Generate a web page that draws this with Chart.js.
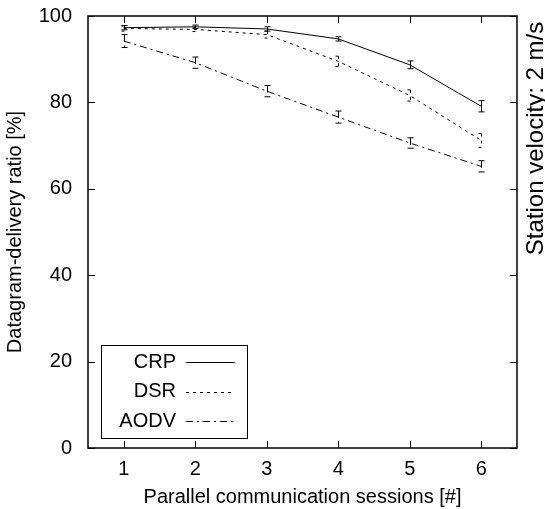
<!DOCTYPE html>
<html>
<head>
<meta charset="utf-8">
<script src="https://cdn.jsdelivr.net/npm/chart.js@4"></script>
<style>
  html, body { margin: 0; padding: 0; background: #fff; }
  canvas { display: block; }
</style>
</head>
<body>
<canvas id="chart" width="545" height="509"></canvas>
<script>
// values
const sessions = [1, 2, 3, 4, 5, 6];
const crp  = [97.3, 97.5, 97.0, 94.7, 88.7, 79.1];
const dsr  = [97.1, 96.9, 95.7, 89.5, 81.6, 71.2];
const aodv = [94.2, 89.2, 82.6, 76.6, 70.6, 65.2];
const crpErr  = [0.5, 0.4, 0.5, 0.5, 0.9, 1.3];
const dsrErr  = [0.6, 0.5, 0.8, 1.2, 1.3, 1.6];
const aodvErr = [1.5, 1.3, 1.3, 1.4, 1.2, 1.3];
const yTicks = [0, 20, 40, 60, 80, 100];
const rightLabel = 'Station velocity: 2 m/s';

const FONT = 'Liberation Sans, Arial, Helvetica, sans-serif';
const errors = [crpErr, dsrErr, aodvErr];

function pts(vals) {
  return sessions.map((s, i) => ({ x: s, y: vals[i] }));
}

// gnuplot-like frame, inward ticks, error bars, key box and right label
const gnuplotDecor = {
  id: 'gnuplotDecor',
  afterDatasetsDraw(chart) {
    const { ctx, chartArea: a, scales: { x, y } } = chart;
    ctx.save();
    ctx.strokeStyle = '#000';
    ctx.fillStyle = '#000';

    // error bars
    ctx.lineWidth = 1;
    chart.data.datasets.forEach((ds, i) => {
      ctx.setLineDash(ds.borderDash || []);
      ds.data.forEach((p, j) => {
        const e = errors[i][j];
        const px = Math.round(x.getPixelForValue(p.x)) + 0.5;
        const t = y.getPixelForValue(p.y + e);
        const b = y.getPixelForValue(p.y - e);
        ctx.beginPath();
        ctx.moveTo(px, t); ctx.lineTo(px, b);
        ctx.moveTo(px - 3, t); ctx.lineTo(px + 3, t);
        ctx.moveTo(px - 3, b); ctx.lineTo(px + 3, b);
        ctx.stroke();
      });
    });
    ctx.setLineDash([]);

    // frame
    ctx.lineWidth = 1.5;
    ctx.strokeRect(a.left, a.top, a.right - a.left, a.bottom - a.top);

    // ticks
    ctx.lineWidth = 1;
    yTicks.forEach(v => {
      const py = Math.round(y.getPixelForValue(v)) + 0.5;
      ctx.beginPath();
      ctx.moveTo(a.left, py); ctx.lineTo(a.left + 7, py);
      ctx.moveTo(a.right, py); ctx.lineTo(a.right - 7, py);
      ctx.stroke();
    });
    sessions.forEach(v => {
      const px = Math.round(x.getPixelForValue(v)) + 0.5;
      ctx.beginPath();
      ctx.moveTo(px, a.bottom); ctx.lineTo(px, a.bottom - 7);
      ctx.moveTo(px, a.top); ctx.lineTo(px, a.top + 7);
      ctx.stroke();
    });

    // key
    const kx = 101, ky = 345, kw = 146, kh = 93;
    ctx.fillStyle = '#fff';
    ctx.fillRect(kx, ky, kw, kh);
    ctx.fillStyle = '#000';
    ctx.strokeRect(kx + 0.5, ky + 0.5, kw, kh);
    ctx.font = '20px ' + FONT;
    ctx.textAlign = 'right';
    ctx.textBaseline = 'middle';
    chart.data.datasets.forEach((ds, i) => {
      const ly = ky + 17 + i * 29.5;
      ctx.fillText(ds.label, kx + 75, ly);
      ctx.setLineDash(ds.borderDash || []);
      ctx.beginPath();
      ctx.moveTo(kx + 85, Math.round(ly) + 0.5);
      ctx.lineTo(kx + 134, Math.round(ly) + 0.5);
      ctx.stroke();
      ctx.setLineDash([]);
    });

    // right side label
    ctx.font = '24px ' + FONT;
    ctx.textBaseline = 'alphabetic';
    ctx.translate(543, 138.5);
    ctx.rotate(-Math.PI / 2);
    ctx.textAlign = 'center';
    ctx.fillText(rightLabel, 0, 0);
    ctx.restore();
  }
};

new Chart(document.getElementById('chart'), {
  type: 'line',
  data: {
    datasets: [
      { label: 'CRP',  data: pts(crp),  borderColor: '#000', borderWidth: 1, borderDash: [] },
      { label: 'DSR',  data: pts(dsr),  borderColor: '#000', borderWidth: 1, borderDash: [3, 4] },
      { label: 'AODV', data: pts(aodv), borderColor: '#000', borderWidth: 1, borderDash: [7, 4, 2, 4] }
    ]
  },
  options: {
    responsive: false,
    animation: false,
    layout: { padding: { top: 16, right: 28, left: 0, bottom: 0 } },
    elements: { point: { radius: 0 }, line: { tension: 0 } },
    plugins: { legend: { display: false }, tooltip: { enabled: false } },
    scales: {
      x: {
        type: 'linear',
        min: 0.5,
        max: 6.5,
        afterBuildTicks: s => { s.ticks = sessions.map(v => ({ value: v })); },
        afterFit: s => { s.height = 61; s.paddingLeft = 0; s.paddingRight = 0; },
        grid: { display: false, drawTicks: false },
        border: { display: false },
        ticks: { color: '#000', font: { family: FONT, size: 20 }, padding: 9, maxRotation: 0 },
        title: { display: true, text: 'Parallel communication sessions [#]', color: '#000',
                 font: { family: FONT, size: 20 }, padding: { top: 0, bottom: 0 } }
      },
      y: {
        min: 0,
        max: 100,
        afterBuildTicks: s => { s.ticks = yTicks.map(v => ({ value: v })); },
        afterFit: s => { s.width = 88; s.paddingTop = 0; s.paddingBottom = 0; },
        grid: { display: false, drawTicks: false },
        border: { display: false },
        ticks: { color: '#000', font: { family: FONT, size: 20 }, padding: 16 },
        title: { display: true, text: 'Datagram-delivery ratio [%]', color: '#000',
                 font: { family: FONT, size: 20 }, padding: { top: 3, bottom: 0 } }
      }
    }
  },
  plugins: [gnuplotDecor]
});
</script>
</body>
</html>
